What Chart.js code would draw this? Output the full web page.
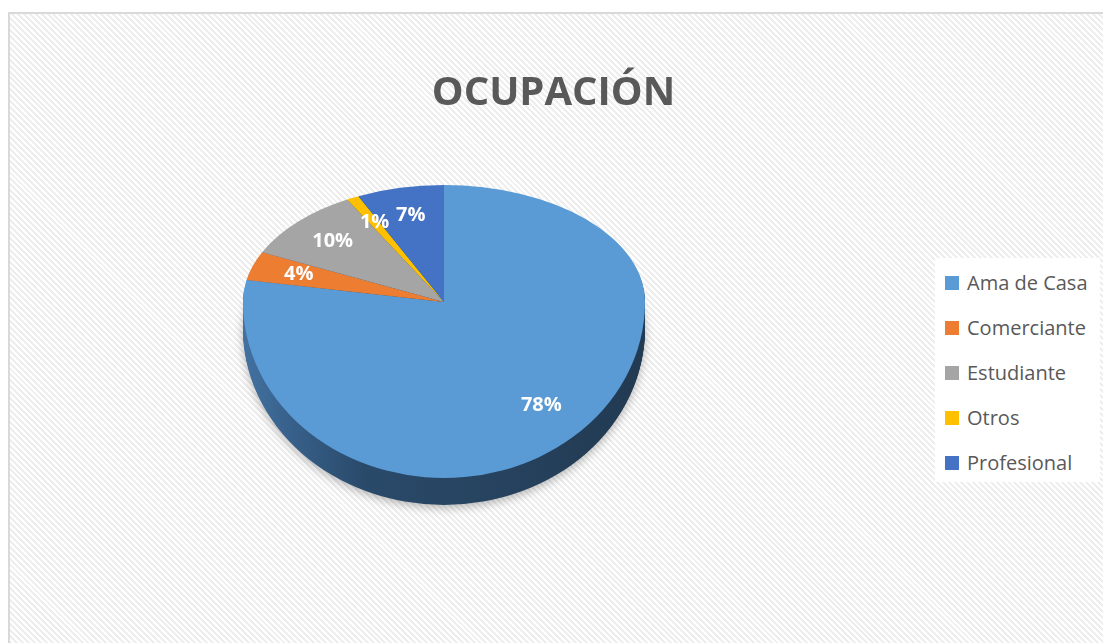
<!DOCTYPE html>
<html lang="es">
<head>
<meta charset="utf-8">
<title>Ocupación</title>
<script src="https://cdn.jsdelivr.net/npm/chart.js@4.4.1/dist/chart.umd.min.js"></script>
<style>
  body { margin: 0; width: 1103px; height: 643px; overflow: hidden; background: #fff; font-family: "Open Sans", sans-serif; }
  #frame { position: absolute; left: 8px; top: 12px; width: 1110px; height: 650px; border: 2px solid #d9d9d9;
           background: repeating-linear-gradient(45deg, #fff 0 2.1px, #eeeeee 2.1px 4.2px); }
  #chart { position: absolute; left: 0; top: 0; }
  #title { position: absolute; left: 0; top: 70px; width: 1107px; text-align: center; font-size: 40px; line-height: 40px;
           font-weight: bold; color: #595959; }
  #legend { position: absolute; left: 935px; top: 258px; width: 165px; height: 224px; background: #fff; }
  .item { position: absolute; left: 10px; height: 20px; font-size: 20px; line-height: 20px; color: #595959; white-space: nowrap; }
  .item .sw { position: absolute; left: 0; top: 3px; width: 14px; height: 14px; }
  .item .tx { position: absolute; left: 22px; top: 0; }
</style>
</head>
<body>
<div id="frame"></div>
<canvas id="chart" width="1103" height="643"></canvas>
<div id="title">OCUPACIÓN</div>
<div id="legend"></div>
<script>
// --- datos ---
const categories = ['Ama de Casa', 'Comerciante', 'Estudiante', 'Otros', 'Profesional'];
const percentages = [78, 4, 10, 1, 7];

// colores de Office
const sliceColors = ['#5B9BD5', '#ED7D31', '#A5A5A5', '#FFC000', '#4472C4'];

// --- efecto 3D (perspectiva simple + grosor) ---
// la mitad de atrás se aplasta más que la de delante
const TILT_BACK = 117 / 201;
const TILT_FRONT = 176 / 201;
const DEPTH = 27;

// dibuja fn() dos veces: mitad trasera y mitad delantera, cada una con su escala
function warped(ctx, cx, cy, dy, fn) {
  const W = ctx.canvas.width, H = ctx.canvas.height;
  [[0, cy + dy, TILT_BACK], [cy + dy, H, TILT_FRONT]].forEach(([y0, y1, tilt]) => {
    ctx.save();
    ctx.beginPath();
    ctx.rect(0, y0, W, y1 - y0);
    ctx.clip();
    ctx.translate(cx, cy + dy);
    ctx.scale(1, tilt);
    ctx.translate(-cx, -cy);
    fn();
    ctx.restore();
  });
}

const pie3d = {
  id: 'pie3d',
  beforeDatasetsDraw(chart) {
    const ctx = chart.ctx;
    const arcs = chart.getDatasetMeta(0).data;
    const { x, y, outerRadius } = arcs[0];

    const side = ctx.createLinearGradient(x - outerRadius, 0, x + outerRadius, 0);
    side.addColorStop(0, '#4372a1');
    side.addColorStop(0.12, '#37608a');
    side.addColorStop(0.3, '#2a4a6a');
    side.addColorStop(1, '#223a52');

    // lado del pastel: capas desplazadas hacia abajo
    for (let d = DEPTH; d > 0; d--) {
      warped(ctx, x, y, d, () => {
        if (d === DEPTH) {
          ctx.shadowColor = 'rgba(0,0,0,0.28)';
          ctx.shadowBlur = 10;
          ctx.shadowOffsetY = 3;
        }
        ctx.fillStyle = side;
        arcs.forEach(a => {
          ctx.beginPath();
          ctx.moveTo(a.x, a.y);
          ctx.arc(a.x, a.y, a.outerRadius, a.startAngle, a.endAngle);
          ctx.closePath();
          ctx.fill();
        });
      });
    }
  },
  // el dibujo normal se salta; la cara superior se dibuja deformada abajo
  beforeDatasetDraw() {
    return false;
  },
  afterDatasetsDraw(chart) {
    const ctx = chart.ctx;
    const arcs = chart.getDatasetMeta(0).data;
    const { x, y } = arcs[0];

    // cara superior con los elementos arc de Chart.js
    warped(ctx, x, y, 0, () => arcs.forEach(a => a.draw(ctx)));

    // etiquetas de porcentaje
    ctx.save();
    ctx.font = 'bold 20px "Open Sans", sans-serif';
    ctx.fillStyle = '#fff';
    ctx.textAlign = 'center';
    ctx.textBaseline = 'middle';
    arcs.forEach((a, i) => {
      const mid = (a.startAngle + a.endAngle) / 2;
      const r = a.outerRadius * 0.76;
      const s = Math.sin(mid);
      const px = a.x + Math.cos(mid) * r;
      const py = a.y + s * r * (s < 0 ? TILT_BACK : TILT_FRONT);
      ctx.fillText(percentages[i] + '%', px, py);
    });
    ctx.restore();
  }
};

new Chart(document.getElementById('chart'), {
  type: 'pie',
  data: {
    labels: categories,
    datasets: [{
      data: percentages,
      backgroundColor: sliceColors,
      borderWidth: 0
    }]
  },
  options: {
    responsive: false,
    animation: false,
    layout: { padding: { left: 243, right: 458, top: 101, bottom: 140 } },
    plugins: {
      legend: { display: false },
      tooltip: { enabled: false }
    }
  },
  plugins: [pie3d]
});

// --- leyenda ---
const legend = document.getElementById('legend');
categories.forEach((name, i) => {
  const item = document.createElement('div');
  item.className = 'item';
  item.style.top = (15 + i * 45) + 'px';
  item.innerHTML = `<span class="sw" style="background:${sliceColors[i]}"></span><span class="tx">${name}</span>`;
  legend.appendChild(item);
});
</script>
</body>
</html>
